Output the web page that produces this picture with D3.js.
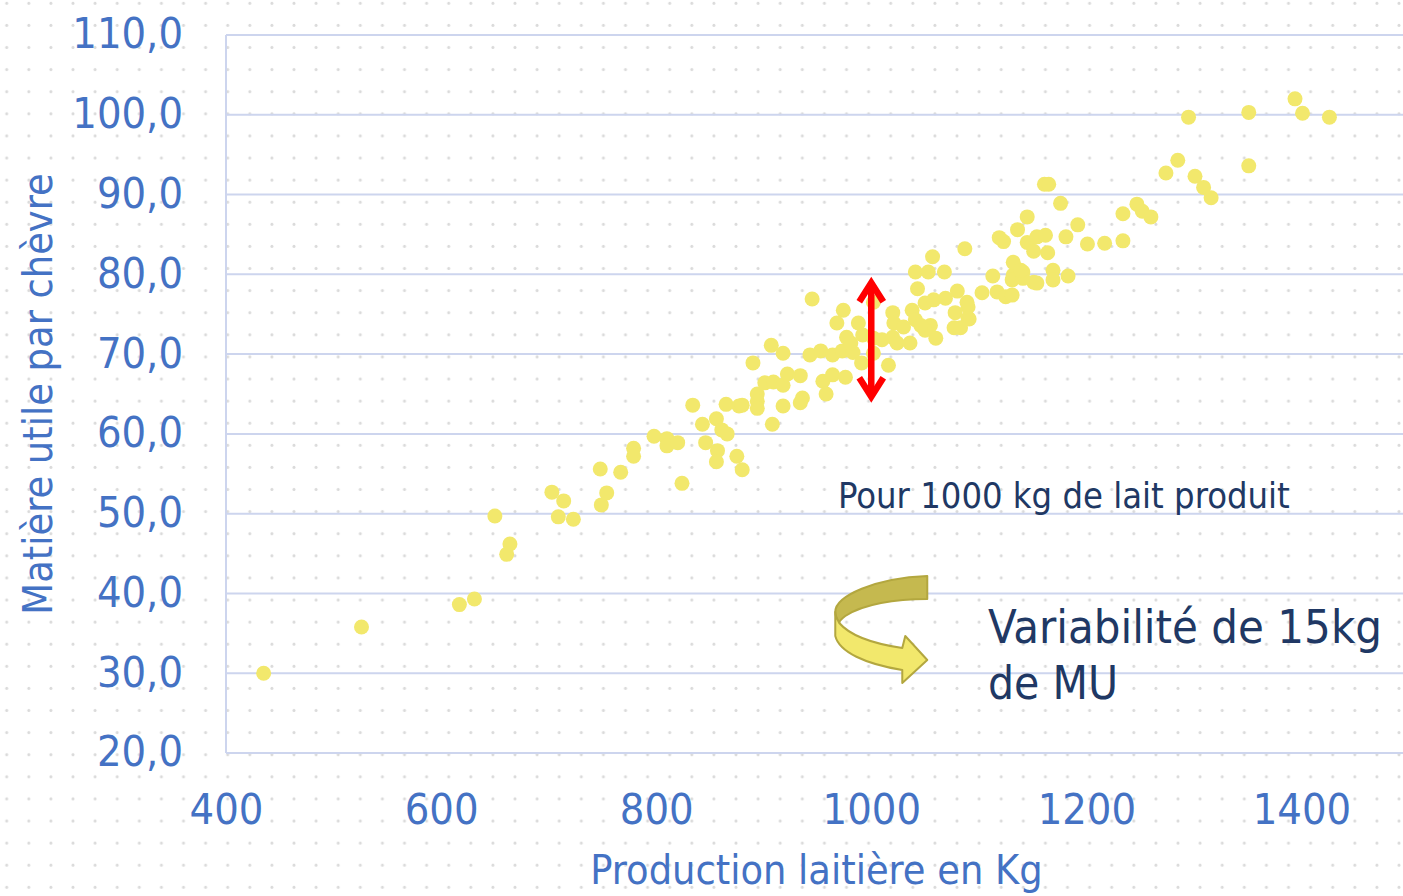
<!DOCTYPE html>
<html>
<head>
<meta charset="utf-8">
<script src="https://cdn.jsdelivr.net/npm/d3@7"></script>
<style>
    body { margin: 0; background: #fff; }
    svg { display: block; }
</style>
</head>
<body>
<svg class="chart" width="1403" height="896"></svg>
<script>
// data
const production = [
    435, 526, 617, 631, 650, 664, 661, 703, 714, 709, 723, 748, 749, 754, 767, 779, 779, 798, 810, 810,
    820, 824, 834, 843, 846, 856, 857, 856, 861, 866, 865, 877, 875, 880, 880, 890, 894, 894, 894, 901,
    908, 907, 918, 909, 918, 918, 922, 934, 936, 934, 943, 945, 953, 955, 958, 964, 964, 973, 976, 983,
    974, 968, 977, 981, 988, 992, 991, 1002, 1002, 1002, 1016, 1010, 1020, 1021, 1020, 1024, 1030, 1036, 1038, 1041,
    1043, 1041, 1053, 1057, 1068, 1087, 1050, 1058, 1055, 1060, 1050, 1046, 1069, 1080, 1078, 1089, 1091, 1077, 1103, 1113,
    1117, 1125, 1131, 1132, 1141, 1151, 1132, 1123, 1119, 1136, 1145, 1161, 1165, 1176, 1145, 1151, 1154, 1162, 1164, 1181,
    1192, 1201, 1217, 1234, 1234, 1247, 1252, 1260, 1169, 1183, 1169, 1154, 1131, 1141, 1139, 1090, 1090, 1083, 1274, 1285,
    1301, 1309, 1316, 1295, 1351, 1351, 1394, 1401, 1426
];
const matiere = [
    30.0, 35.8, 38.6, 39.3, 49.7, 46.2, 44.9, 52.7, 51.6, 49.6, 49.3, 55.6, 51.1, 52.6, 55.2, 58.2, 57.2, 59.7, 59.4, 58.5,
    58.9, 53.8, 63.6, 61.2, 58.9, 61.9, 57.9, 56.5, 60.5, 60.0, 63.7, 63.5, 57.2, 55.5, 63.6, 68.9, 65.0, 64.1, 63.2, 66.4,
    61.2, 71.1, 70.1, 66.5, 66.1, 63.5, 67.5, 67.3, 64.5, 63.9, 69.9, 76.9, 70.4, 66.6, 65.0, 69.9, 67.4, 70.4, 67.1, 70.2,
    75.5, 73.9, 72.1, 71.4, 73.9, 72.4, 68.9, 70.1, 76.5, 72.0, 68.6, 71.8, 75.2, 73.9, 72.1, 71.4, 73.4, 71.4, 75.5, 74.3,
    78.2, 80.3, 80.3, 82.2, 80.3, 83.2, 76.4, 76.8, 73.6, 72.0, 73.0, 73.6, 77.0, 77.9, 75.2, 76.5, 74.4, 73.3, 77.7, 79.8,
    77.8, 77.2, 77.4, 79.9, 80.3, 79.0, 81.5, 84.1, 84.6, 85.6, 87.2, 91.3, 91.3, 88.9, 84.0, 82.9, 84.7, 84.9, 82.7, 84.7,
    86.2, 83.8, 83.9, 84.2, 87.6, 88.8, 87.9, 87.2, 80.5, 79.8, 79.3, 78.9, 79.3, 79.5, 80.5, 75.9, 74.5, 73.3, 92.7, 94.3,
    92.3, 90.9, 89.6, 99.7, 100.3, 93.6, 102.0, 100.2, 99.7
];
const xTicks = [400, 600, 800, 1000, 1200, 1400];
const yTicks = [20, 30, 40, 50, 60, 70, 80, 90, 100, 110];

const xTitle = "Production laitière en Kg";
const yTitle = "Matière utile par chèvre";
const noteTop = "Pour 1000 kg de lait produit";
const noteBig = ["Variabilité de 15kg", "de MU"];
const noteBigWidth = [394, 130];

// the red range marker at 1000 kg
const rangeX = 1000;
const rangeLow = 63.9;
const rangeHigh = 79.7;

// config
const width = 1403;
const height = 896;
const margin = { top: 35, right: -6, bottom: 143, left: 226 };
const font = "'DejaVu Sans Condensed', 'DejaVu Sans', sans-serif";
const blue = "#4472c4";
const navy = "#203864";
const gridColor = "#cdd5ee";
const dotColor = "#f2e86c";

const svg = d3.select("svg.chart");

// dotted paper background
const defs = svg.append("defs");
defs.append("pattern")
    .attr("id", "paper")
    .attr("patternUnits", "userSpaceOnUse")
    .attr("width", 22.1)
    .attr("height", 22.1)
    .append("circle")
    .attr("cx", 6.7)
    .attr("cy", 3.3)
    .attr("r", 1.5)
    .attr("fill", "#dadada");

svg.append("rect")
    .attr("width", width)
    .attr("height", height)
    .attr("fill", "url(#paper)");

const x = d3.scaleLinear()
    .domain([400, 1500])
    .range([margin.left, width - margin.right]);

const y = d3.scaleLinear()
    .domain([20, 110])
    .range([height - margin.bottom, margin.top]);

// grid
svg.append("g")
    .attr("class", "grid")
    .selectAll("line")
    .data(yTicks)
    .join("line")
    .attr("x1", x(400))
    .attr("x2", width)
    .attr("y1", d => y(d))
    .attr("y2", d => y(d))
    .attr("stroke", gridColor)
    .attr("stroke-width", 2);

svg.append("line")
    .attr("x1", x(400))
    .attr("x2", x(400))
    .attr("y1", y(110))
    .attr("y2", y(20))
    .attr("stroke", gridColor)
    .attr("stroke-width", 2);

// y axis labels
const yAxis = d3.axisLeft(y)
    .tickValues(yTicks)
    .tickSize(0)
    .tickPadding(43)
    .tickFormat(d => d3.format(".1f")(d).replace(".", ","));

svg.append("g")
    .attr("transform", `translate(${x(400)},0)`)
    .call(yAxis)
    .call(g => g.select(".domain").remove())
    .selectAll("text")
    .attr("font-family", font)
    .attr("font-size", 43)
    .attr("fill", blue)
    .attr("dy", "0.3em");

// x axis labels
const xAxis = d3.axisBottom(x)
    .tickValues(xTicks)
    .tickSize(0)
    .tickPadding(40)
    .tickFormat(d3.format("d"));

svg.append("g")
    .attr("transform", `translate(0,${y(20)})`)
    .call(xAxis)
    .call(g => g.select(".domain").remove())
    .selectAll("text")
    .attr("font-family", font)
    .attr("font-size", 43)
    .attr("fill", blue);

// axis titles
svg.append("text")
    .attr("x", (x(400) + width) / 2 + 2)
    .attr("y", 884)
    .attr("text-anchor", "middle")
    .attr("font-family", font)
    .attr("font-size", 41)
    .attr("fill", blue)
    .text(xTitle);

svg.append("text")
    .attr("transform", `translate(52,${(y(110) + y(20)) / 2}) rotate(-90)`)
    .attr("text-anchor", "middle")
    .attr("font-family", font)
    .attr("font-size", 41)
    .attr("fill", blue)
    .text(yTitle);

// points
svg.append("g")
    .attr("class", "points")
    .selectAll("circle")
    .data(d3.zip(production, matiere))
    .join("circle")
    .attr("cx", d => x(d[0]))
    .attr("cy", d => y(d[1]))
    .attr("r", 7.5)
    .attr("fill", dotColor);

// red double arrow
const ax = x(rangeX);
const aTop = y(rangeHigh) + 6;
const aBot = y(rangeLow) - 6;
const marker = svg.append("g")
    .attr("fill", "none")
    .attr("stroke", "#ff0000")
    .attr("stroke-width", 6.5)
    .attr("stroke-linejoin", "miter");

marker.append("line")
    .attr("x1", ax).attr("x2", ax)
    .attr("y1", aTop).attr("y2", aBot);

marker.append("polyline")
    .attr("points", [[ax - 12, aTop + 19], [ax, aTop], [ax + 12, aTop + 19]].join(" "));

marker.append("polyline")
    .attr("points", [[ax - 12, aBot - 19], [ax, aBot], [ax + 12, aBot - 19]].join(" "));

// notes
svg.append("text")
    .attr("x", 838)
    .attr("y", 508)
    .attr("font-family", font)
    .attr("font-size", 36)
    .attr("fill", navy)
    .text(noteTop);

const big = svg.append("g")
    .attr("font-family", font)
    .attr("font-size", 47)
    .attr("fill", navy);

big.selectAll("text")
    .data(noteBig)
    .join("text")
    .attr("x", 988)
    .attr("y", (d, i) => 643 + i * 56)
    .attr("textLength", (d, i) => noteBigWidth[i])
    .attr("lengthAdjust", "spacingAndGlyphs")
    .text(d => d);

// curled arrow pointing at the note
const curl = svg.append("g")
    .attr("transform", `translate(${x(1000) - 36},${y(20) - 177})`)
    .attr("stroke", "#b3a73f")
    .attr("stroke-width", 2)
    .attr("stroke-linejoin", "round");

// back side (dark)
curl.append("path")
    .attr("fill", "#c5b94f")
    .attr("d", "M92,0 L92,23 C60,23 28,28 10,40 C6,43 4,46 4,47 C0,42 0,37 0,36 C0,20 40,2 92,0 Z");

// front side (light) with the head
curl.append("path")
    .attr("fill", "#f2e86c")
    .attr("d", "M0,36 L0,60 C4,76 30,88 67,94 L67,107 L92,84 L70,60 L67,72 C40,68 15,60 4,47 C2,43 0,40 0,36 Z");
</script>
</body>
</html>
